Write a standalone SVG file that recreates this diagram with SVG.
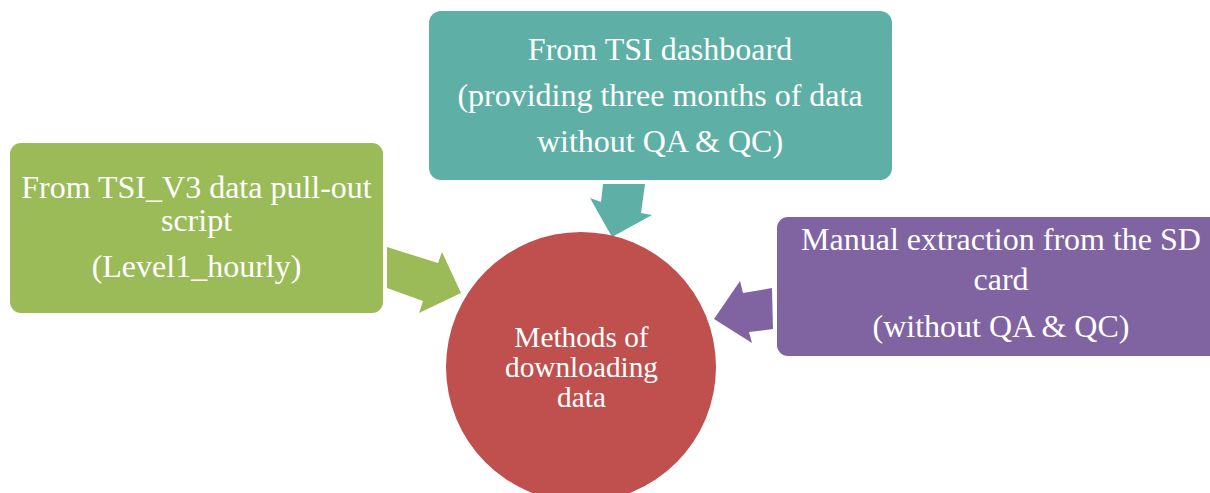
<svg xmlns="http://www.w3.org/2000/svg" width="1210" height="493" viewBox="0 0 1210 493">
<style>
text{font-family:"Liberation Serif","Times New Roman",serif;fill:#ffffff;text-anchor:middle}
.t{font-size:32px}
.c{font-size:29.3px}
</style>
<rect width="1210" height="493" fill="#ffffff"/>
<g id="connectors">
<polygon fill="#9BBB59" points="387,247 438,263 442,252 461,293 419,313 423,301 387,288"/>
<polygon fill="#5EAFA6" points="603,184 645,184 641,213 652,215 612,237 590,198 601,202"/>
<polygon fill="#8064A2" points="772,288 743,293 740,281 714,319 752,343 749,332 773,329"/>
</g>
<g id="node-center">
<circle cx="581" cy="367" r="135" fill="#C0504D"/>
<text class="c" x="581.5" y="347">Methods of</text>
<text class="c" x="581.5" y="377">downloading</text>
<text class="c" x="581.5" y="407">data</text>
</g>
<g id="node-green">
<rect x="10" y="143" width="373" height="170" rx="11" fill="#9BBB59"/>
<text class="t" x="196.5" y="198">From TSI_V3 data pull-out</text>
<text class="t" x="196.5" y="230.5">script</text>
<text class="t" x="196.5" y="277">(Level1_hourly)</text>
</g>
<g id="node-teal">
<rect x="429" y="11" width="463" height="169" rx="12" fill="#5EAFA6"/>
<text class="t" x="660" y="60">From TSI dashboard</text>
<text class="t" x="660" y="106">(providing three months of data</text>
<text class="t" x="660" y="152">without QA &amp; QC)</text>
</g>
<g id="node-purple">
<rect x="777" y="217" width="450" height="139" rx="11" fill="#8064A2"/>
<text class="t" x="1001" y="250">Manual extraction from the SD</text>
<text class="t" x="1001" y="290">card</text>
<text class="t" x="1001" y="337">(without QA &amp; QC)</text>
</g>
</svg>
